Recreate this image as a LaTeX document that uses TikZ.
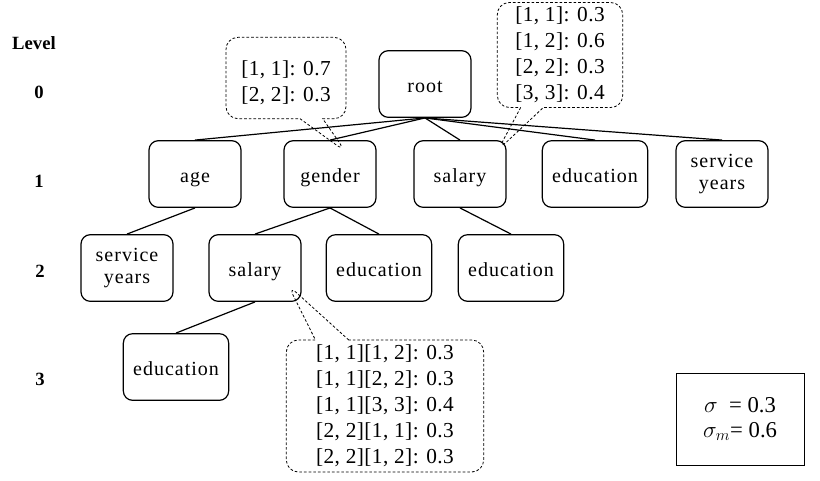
\documentclass[tikz,border=0pt]{standalone}
\usepackage{fontspec}
\setmainfont{Liberation Serif}
\usetikzlibrary{shapes.callouts}

\begin{document}
\begin{tikzpicture}[x=0.75pt,y=-0.75pt,
    attr/.style={draw,line width=0.9pt,rounded corners=7pt,minimum width=69pt,minimum height=50pt,align=center,
      font=\fontsize{15}{16}\selectfont\addfontfeature{LetterSpace=5}},
    one/.style={attr,text height=13pt,text depth=1pt},
    wide/.style={one,minimum width=79pt},
    level/.style={font=\fontsize{14}{16}\selectfont\bfseries},
    note/.style={rectangle callout,draw,dash pattern=on 2pt off 1.5pt,line width=0.6pt,rounded corners=9pt,
      align=center,callout pointer width=17pt,font=\fontsize{16}{19.5}\selectfont\addfontfeature{LetterSpace=2}},
    edge/.style={line width=0.9pt}]
        \useasboundingbox (0,0) rectangle (820,480);
        % level column
        \node[level] (lvl) at (34,43){Level};
        \node[level] (l0) at (39,92){0};
        \node[level] (l1) at (39,181){1};
        \node[level] (l2) at (40,271){2};
        \node[level] (l3) at (40,379){3};
        % tree
        \node[one] (root) at (425,84){root};
        \node[one] (age) at (195,174){age};
        \node[one] (gender) at (330,174){gender};
        \node[one] (salary) at (460,174){salary};
        \node[wide] (edu) at (595,174){education};
        \node[attr] (years) at (722,174){service\\years};
        \node[attr] (ageyears) at (127,268){service\\years};
        \node[one] (gsalary) at (255,268){salary};
        \node[wide] (gedu) at (379,268){education};
        \node[wide] (sedu) at (511,268){education};
        \node[wide] (gsedu) at (176,367){education};
        \foreach \c in {age,gender,salary,edu,years}
            \draw[edge] (root.south) -- (\c.north);
        \draw[edge] (age.south) -- (ageyears.north);
        \draw[edge] (gender.south) -- (gsalary.north);
        \draw[edge] (gender.south) -- (gedu.north);
        \draw[edge] (salary.south) -- (sedu.north);
        \draw[edge] (gsalary.south) -- (gsedu.north);
        % distributions
        \coordinate (tipg) at (346,152);
        \coordinate (tips) at (498,150);
        \coordinate (tipgs) at (288,285);
        \node[note,minimum width=90pt,minimum height=61pt,text height=36pt,text depth=1pt,callout absolute pointer=(tipg)] (dgender) at (286,78)
            {[1, 1]: 0.7\\{}[2, 2]: 0.3};
        \node[note,minimum width=94pt,minimum height=78pt,callout absolute pointer=(tips)] (dsalary) at (560,55)
            {[1, 1]: 0.3\\{}[1, 2]: 0.6\\{}[2, 2]: 0.3\\{}[3, 3]: 0.4};
        \node[note,minimum width=148pt,minimum height=99pt,callout pointer width=25pt,callout absolute pointer=(tipgs)] (dgsalary) at (385,406)
            {[1, 1][1, 2]: 0.3\\{}[1, 1][2, 2]: 0.3\\{}[1, 1][3, 3]: 0.4\\{}[2, 2][1, 1]: 0.3\\{}[2, 2][1, 2]: 0.3};
        % thresholds
        \node[draw,line width=0.6pt,minimum width=96pt,minimum height=69pt,align=center,font=\fontsize{17}{19}\selectfont] (sig) at (740,419)
            {$\sigma$\ \ = 0.3\\$\sigma_m$= 0.6};
\end{tikzpicture}
\end{document}
